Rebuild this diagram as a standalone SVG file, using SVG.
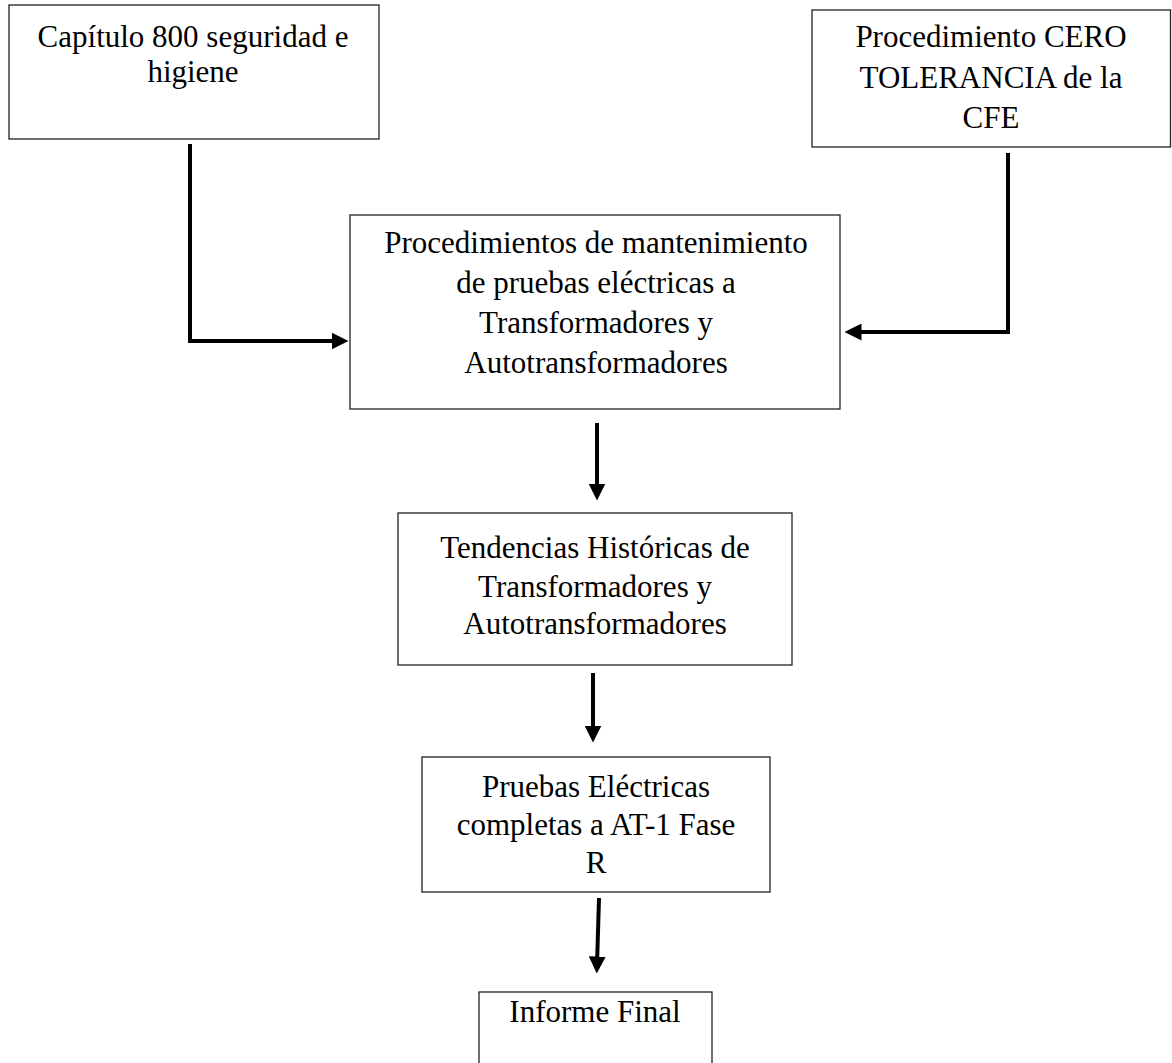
<svg xmlns="http://www.w3.org/2000/svg" width="1172" height="1063" viewBox="0 0 1172 1063">
<style>
.box{fill:#fff;stroke:#222;stroke-width:1.3}
.t{font-family:"Liberation Serif","Times New Roman",serif;font-size:31px;fill:#000;text-anchor:middle}
.c{fill:none;stroke:#000;stroke-width:4}
</style>
<defs>
<marker id="ah" markerUnits="userSpaceOnUse" markerWidth="17" markerHeight="17" viewBox="0 0 16 16" refX="8" refY="8" orient="auto">
<path d="M0,0 L16,8 L0,16 z" fill="#000"/>
</marker>
</defs>
<rect width="1172" height="1063" fill="#fff"/>
<g id="n1">
<rect class="box" x="9" y="5" width="370" height="134"/>
<text class="t" x="193" y="47">Capítulo 800 seguridad e</text>
<text class="t" x="193" y="82">higiene</text>
</g>
<g id="n2">
<rect class="box" x="812" y="10" width="358.5" height="137"/>
<text class="t" x="991" y="47">Procedimiento CERO</text>
<text class="t" x="991" y="88">TOLERANCIA de la</text>
<text class="t" x="991" y="128">CFE</text>
</g>
<g id="n3">
<rect class="box" x="350" y="215" width="490" height="194"/>
<text class="t" x="596" y="253">Procedimientos de mantenimiento</text>
<text class="t" x="596" y="293">de pruebas eléctricas a</text>
<text class="t" x="596" y="333">Transformadores y</text>
<text class="t" x="596" y="373">Autotransformadores</text>
</g>
<g id="n4">
<rect class="box" x="398" y="513" width="394" height="152"/>
<text class="t" x="595" y="558">Tendencias Históricas de</text>
<text class="t" x="595" y="597">Transformadores y</text>
<text class="t" x="595" y="634">Autotransformadores</text>
</g>
<g id="n5">
<rect class="box" x="422" y="757" width="348" height="135"/>
<text class="t" x="596" y="797">Pruebas Eléctricas</text>
<text class="t" x="596" y="835">completas a AT-1 Fase</text>
<text class="t" x="596" y="873">R</text>
</g>
<g id="n6">
<rect class="box" x="479" y="992" width="233" height="90"/>
<text class="t" x="595" y="1022">Informe Final</text>
</g>
<g id="connectors">
<polyline class="c" points="190,144 190,341 340,341" marker-end="url(#ah)"/>
<polyline class="c" points="1008,153 1008,332 853,332" marker-end="url(#ah)"/>
<line class="c" x1="597" y1="423" x2="597" y2="492" marker-end="url(#ah)"/>
<line class="c" x1="593" y1="673" x2="593" y2="734" marker-end="url(#ah)"/>
<line class="c" x1="599" y1="898" x2="597" y2="965" marker-end="url(#ah)"/>
</g>
</svg>
